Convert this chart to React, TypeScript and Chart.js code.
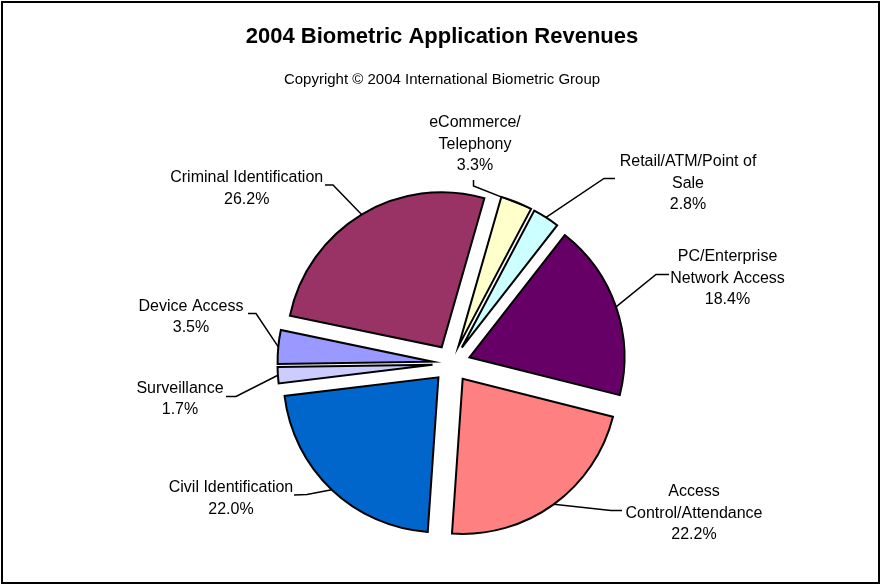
import React, { useEffect, useRef } from 'react';
import { Chart, registerables } from 'chart.js';

Chart.register(...registerables);

// ---- data ----
const CATEGORIES = [
  'eCommerce/\nTelephony',
  'Retail/ATM/Point of\nSale',
  'PC/Enterprise\nNetwork Access',
  'Access\nControl/Attendance',
  'Civil Identification',
  'Surveillance',
  'Device Access',
  'Criminal Identification',
];
const SHARES = [3.3, 2.8, 18.4, 22.2, 22.0, 1.7, 3.5, 26.2];
const COLORS = ['#FFFFCC', '#CCFFFF', '#660066', '#FF8080', '#0066CC', '#CCCCFF', '#9999FF', '#993366'];
const TITLE = '2004 Biometric Application Revenues';
const SUBTITLE = 'Copyright \u00A9 2004 International Biometric Group';

// ---- layout / style ----
const W = 884;
const H = 588;
const START_ANGLE = 16;
const EXPLODE = 19;
const RADIUS = 155;
const FONT = '"Liberation Sans", Arial, Helvetica, sans-serif';
const LINE_H = 21.3;

// label block placement (cap-centre of first line), leader start, elbow, anchor fraction on arc
const LABEL_LAYOUT = [
  { cx: 475, y: 121.7, sx: 473.5, sy: 180, ex: 473.5, ey: 186, f: 0.95 },
  { cx: 688, y: 160.5, sx: 615, sy: 178.5, ex: 604, ey: 178.5, f: 0.5 },
  { cx: 727.5, y: 255.5, sx: 669, sy: 274.5, ex: 656, ey: 274.5, f: 0.5 },
  { cx: 694, y: 490.7, sx: 622, sy: 510.5, ex: 611, ey: 510.5, f: 0.5 },
  { cx: 231, y: 486.7, sx: 294, sy: 495, ex: 307, ey: 494.5, f: 0.5 },
  { cx: 180, y: 387.3, sx: 226, sy: 396.5, ex: 236, ey: 396.5, f: 0.5 },
  { cx: 191, y: 305.3, sx: 248, sy: 313.5, ex: 256, ey: 313.5, f: 0.5 },
  { cx: 246.7, y: 176.7, sx: 325, sy: 185, ex: 333, ey: 185, f: 0.5 },
];

const explodePlugin = {
  id: 'explodeSlices',
  afterDatasetUpdate(chart: any, args: any) {
    const arcs = args.meta.data;
    arcs.forEach((arc: any) => {
      const mid = (arc.startAngle + arc.endAngle) / 2;
      arc.x = arc.x + Math.cos(mid) * EXPLODE;
      arc.y = arc.y + Math.sin(mid) * EXPLODE;
    });
  },
};

const decorPlugin = {
  id: 'decor',
  afterDraw(chart: any) {
    const ctx = chart.ctx as CanvasRenderingContext2D;
    ctx.save();
    // frame
    ctx.strokeStyle = '#000';
    ctx.lineWidth = 2;
    ctx.strokeRect(2, 2, 877, 581);

    // titles
    ctx.fillStyle = '#000';
    ctx.textAlign = 'center';
    ctx.textBaseline = 'alphabetic';
    ctx.font = `bold 22px ${FONT}`;
    ctx.fillText(TITLE, 442, 42.5);
    ctx.font = `15px ${FONT}`;
    ctx.fillText(SUBTITLE, 442, 84);

    // labels + leader lines
    const arcs = chart.getDatasetMeta(0).data;
    ctx.font = `16px ${FONT}`;
    ctx.lineWidth = 1.5;
    ctx.lineJoin = 'miter';
    arcs.forEach((arc: any, i: number) => {
      const L = LABEL_LAYOUT[i];
      const lines = String(chart.data.labels[i]).split('\n');
      lines.push(SHARES[i].toFixed(1) + '%');
      lines.forEach((t, k) => {
        ctx.fillText(t, L.cx, L.y + k * LINE_H + 5.7);
      });
      const a = arc.startAngle + L.f * (arc.endAngle - arc.startAngle);
      const px = arc.x + Math.cos(a) * arc.outerRadius;
      const py = arc.y + Math.sin(a) * arc.outerRadius;
      ctx.beginPath();
      ctx.moveTo(L.sx, L.sy);
      ctx.lineTo(L.ex, L.ey);
      ctx.lineTo(px, py);
      ctx.stroke();
    });
    ctx.restore();
  },
};

export default function App() {
  const ref = useRef<HTMLCanvasElement | null>(null);

  useEffect(() => {
    if (!ref.current) return;
    const chart = new Chart(ref.current, {
      type: 'pie',
      data: {
        labels: CATEGORIES,
        datasets: [
          {
            data: SHARES,
            backgroundColor: COLORS,
            borderColor: '#000',
            borderWidth: 2,
            borderJoinStyle: 'miter',
            offset: 0,
            hoverOffset: 0,
            radius: RADIUS,
          } as any,
        ],
      },
      options: {
        animation: false,
        responsive: false,
        devicePixelRatio: 1,
        rotation: START_ANGLE,
        events: [],
        layout: { padding: { left: 119, right: 100, top: 219, bottom: 80 } },
        plugins: {
          legend: { display: false },
          tooltip: { enabled: false },
          title: { display: false },
        },
      } as any,
      plugins: [explodePlugin, decorPlugin],
    });
    return () => chart.destroy();
  }, []);

  return (
    <div style={{ position: 'absolute', left: 0, top: 0, width: W, height: H, background: '#fff' }}>
      <canvas ref={ref} width={W} height={H} style={{ display: 'block', width: W, height: H }} />
    </div>
  );
}
